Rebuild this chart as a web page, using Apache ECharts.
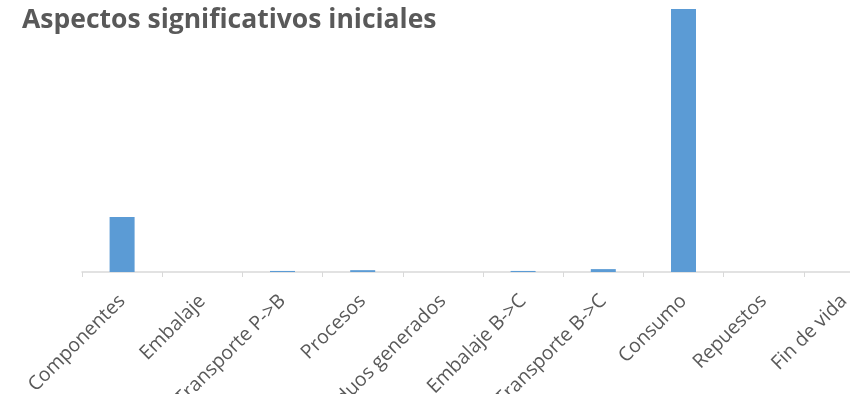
<!DOCTYPE html>
<html>
<head>
<meta charset="utf-8">
<script src="https://cdn.jsdelivr.net/npm/echarts@6/dist/echarts.min.js"></script>
<style>
  html, body { margin: 0; padding: 0; background: #ffffff; }
  #chart { width: 850px; height: 394px; }
</style>
</head>
<body>
<div id="chart"></div>
<script>
// Life-cycle stages and their initial significance scores
const categories = [
  'Componentes', 'Embalaje', 'Transporte P->B', 'Procesos', 'Residuos generados',
  'Embalaje B->C', 'Transporte B->C', 'Consumo', 'Repuestos', 'Fin de vida'
];
const values = [209, 0, 4, 7, 0, 4, 11, 1000, 0, 0];

const chart = echarts.init(document.getElementById('chart'), null, { renderer: 'canvas' });

chart.setOption({
  animation: false,
  backgroundColor: '#ffffff',
  title: {
    text: 'Aspectos significativos iniciales',
    left: 17,
    top: 2,
    textStyle: {
      fontFamily: 'Open Sans',
      fontWeight: 'bold',
      fontSize: 26.5,
      color: '#595959'
    }
  },
  grid: {
    left: 82, right: -34, top: 9, bottom: 122,
    containLabel: false,
    outerBoundsMode: 'none'
  },
  xAxis: {
    type: 'category',
    data: categories,
    boundaryGap: true,
    axisLine: { show: true, lineStyle: { color: '#d9d9d9', width: 1.5 } },
    axisTick: { show: true, length: 5, lineStyle: { color: '#d9d9d9', width: 1 } },
    axisLabel: {
      interval: 0,
      rotate: 45,
      margin: 26,
      fontFamily: 'Open Sans',
      fontSize: 19.5,
      color: '#595959'
    }
  },
  yAxis: {
    type: 'value',
    min: 0,
    max: 1000,
    show: false,
    splitLine: { show: false }
  },
  series: [{
    type: 'bar',
    data: values,
    barWidth: 25,
    itemStyle: { color: '#5b9bd5' }
  }]
});
</script>
</body>
</html>
